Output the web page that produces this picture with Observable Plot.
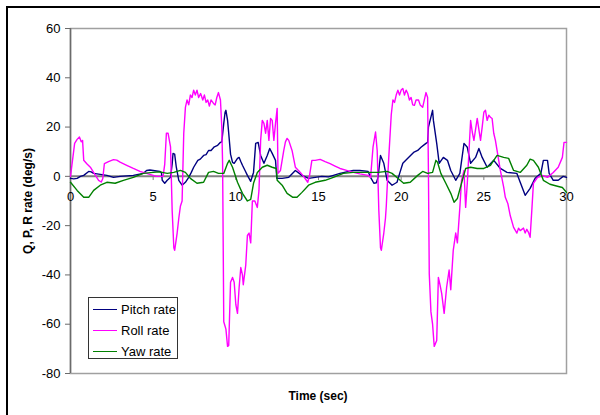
<!DOCTYPE html>
<html>
<head>
<meta charset="utf-8">
<script src="https://cdn.jsdelivr.net/npm/d3@7"></script>
<script src="https://cdn.jsdelivr.net/npm/@observablehq/plot@0.6"></script>
<style>
  html, body { margin: 0; padding: 0; background: #fff; }
  #wrap { position: relative; width: 600px; height: 415px; overflow: hidden; background: #fff; font-family: "Liberation Sans", Arial, sans-serif; }
  #outer { position: absolute; left: 6px; top: 6px; width: 640px; height: 440px; border: 2px solid #000; box-sizing: border-box; }
  #chart { position: absolute; left: 0; top: 0; }
  .ytitle { position: absolute; left: 28px; top: 201px; transform: translate(-50%, -50%) rotate(-90deg); font-weight: bold; font-size: 12px; white-space: nowrap; color: #000; }
  .xtitle { position: absolute; left: 318px; top: 396px; transform: translate(-50%, -50%); font-weight: bold; font-size: 12px; white-space: nowrap; color: #000; }
  #legend { position: absolute; left: 88px; top: 297px; width: 90px; height: 62px; border: 1.5px solid #333; box-sizing: border-box; background: #fff; }
  .lrow { position: absolute; left: 4px; height: 16px; display: flex; align-items: center; font-size: 13px; color: #000; white-space: nowrap; }
  .lrow span.sw { display: inline-block; width: 24px; height: 0; border-top: 1.5px solid; margin-right: 4px; }
</style>
</head>
<body>
<div id="wrap">
  <div id="outer"></div>
  <div id="chart"></div>
  <div class="ytitle">Q, P, R rate (deg/s)</div>
  <div class="xtitle">Time (sec)</div>
  <div id="legend"></div>
</div>
<script>
// ---- data ----
const seriesNames = ["Pitch rate", "Roll rate", "Yaw rate"];
const seriesColors = ["#000080", "#FF00FF", "#008000"];
const xTicks = [0, 5, 10, 15, 20, 25, 30];
const yTicks = [-80, -60, -40, -20, 0, 20, 40, 60];

const pitchT = [0,0.2,0.4,0.6,0.8,1.1,1.25,1.4,1.8,2.2,2.6,3.0,3.4,3.8,4.1,4.4,4.6,4.8,5.0,5.2,5.4,5.5,5.55,5.7,5.85,6.05,6.15,6.2,6.3,6.4,6.55,6.75,6.95,7.15,7.3,7.45,7.7,7.85,8.05,8.2,8.35,8.5,8.7,8.9,9.07,9.15,9.27,9.35,9.4,9.5,9.57,9.68,9.8,9.9,10.1,10.2,10.3,10.4,10.55,10.7,10.9,11.07,11.2,11.35,11.5,11.7,11.9,12.05,12.2,12.4,12.48,12.8,13.2,13.6,14.0,14.4,14.8,15.2,15.6,16.0,16.3,16.7,17.1,17.5,18.0,18.15,18.35,18.5,18.6,18.75,18.95,19.15,19.45,19.75,19.9,20.1,20.4,20.75,21.0,21.2,21.5,21.6,21.65,21.9,21.95,22.15,22.3,22.55,22.8,23.0,23.3,23.55,23.8,24.0,24.2,24.5,24.7,24.9,25.2,25.6,26.0,26.4,27.0,27.2,27.5,27.8,28.1,28.45,28.6,28.85,28.95,29.2,29.5,29.8,30];
const pitchV = [-0.8,-1,-0.8,0,0.4,2,1.8,1.2,0.8,0.4,-0.4,0,0.2,0.4,0.8,1.2,2.4,2.6,2.4,2.2,2,1.5,-1.6,-2.8,-1.6,-0.4,5,9.3,9,3.7,-1.6,-3.6,-2.4,-0.4,1.5,3.7,6.5,7,8.5,8.8,10.5,10.5,12,12.6,13.8,14,21.5,26,26.8,22.7,17.5,9,5.7,5.3,7.3,7.7,6,4.5,2.5,0.4,-2,1.6,13.4,13.8,8.5,5.3,8.5,11.3,9.3,6.5,-0.8,-0.8,-0.4,2.4,0.4,-0.8,-0.4,0,-0.2,0.6,1.2,1.8,2.4,2.4,2,-0.4,-2.8,-2.6,-0.4,8.5,5.3,-1.6,-3.6,-2.4,1,5.3,7.3,9.7,10.5,11.8,13.4,13.8,20,26.8,22.7,13.4,5.3,7.7,6.5,2.4,-1.6,1.2,13.4,11.8,5.3,7.7,11.3,7.7,3.7,6.5,3.2,1.6,1.2,-2.4,-7.7,-4.9,-0.8,1.2,6.5,6.5,1.2,-1.6,-1.6,0,-0.4];

const rollT = [0,0.15,0.25,0.4,0.54,0.65,0.73,0.8,1.0,1.2,1.5,1.7,1.86,1.95,2.05,2.3,2.6,2.8,3.0,3.4,3.8,4.2,4.6,4.9,5.2,5.6,5.7,5.8,5.9,6.05,6.15,6.25,6.3,6.45,6.55,6.65,6.75,6.85,6.95,7.05,7.15,7.25,7.35,7.45,7.55,7.65,7.75,7.87,8.0,8.1,8.2,8.3,8.4,8.5,8.65,8.75,8.85,8.95,9.07,9.15,9.2,9.27,9.4,9.5,9.57,9.68,9.8,9.9,10.0,10.1,10.2,10.3,10.4,10.45,10.6,10.7,10.8,10.9,11.0,11.15,11.3,11.4,11.5,11.6,11.7,11.8,11.9,12.0,12.1,12.2,12.3,12.4,12.5,12.55,12.7,12.9,13.0,13.1,13.2,13.4,13.6,13.9,14.1,14.35,14.45,14.6,14.8,15.1,15.4,15.7,16.0,16.3,16.7,17.1,17.5,18.0,18.15,18.3,18.45,18.55,18.65,18.75,18.8,18.95,19.05,19.1,19.15,19.25,19.4,19.5,19.6,19.7,19.8,19.9,20.0,20.1,20.2,20.3,20.4,20.5,20.6,20.7,20.8,20.9,21.05,21.15,21.3,21.4,21.5,21.6,21.65,21.7,21.8,21.9,22.0,22.15,22.25,22.35,22.45,22.6,22.75,22.9,23.0,23.15,23.3,23.4,23.55,23.65,23.8,23.9,24.0,24.2,24.3,24.4,24.6,24.8,24.9,25.0,25.1,25.2,25.3,25.4,25.5,25.6,25.7,25.8,26.0,26.2,26.3,26.45,26.6,26.8,27.0,27.1,27.2,27.4,27.5,27.6,27.7,27.8,27.9,28.0,28.25,28.55,28.85,29.2,29.5,29.75,29.85,30];
const rollV = [0,8,13.4,15,16,14,14.6,6.5,5,3.7,0.5,-1.6,-2.3,-1,5.2,6,6.8,6.6,5.8,4.5,3.2,2,1.2,0.6,0,0,5,17.5,17.5,12,-14,-29,-30,-23,-17,-12,-10,17.5,28,31,29,33,32,35,33,35,32,33.6,31,33,30,31,28.5,31,29.6,29,32,34,31,20,5,-59,-62,-69,-68.6,-43,-41,-43,-52,-55.6,-45,-37,-40,-44,-36,-24,-23,-27,-10,-10,-12.6,-5.7,14.6,22.7,21.5,17.5,22.7,14.6,23.5,22.7,14.6,21.5,27.6,1.2,2.4,10.5,14,15.4,14.6,10.5,3.7,1.6,0,-2.4,0,6.5,6.5,6.9,6,5.2,4.2,3.2,2.4,1.6,1,0.4,-0.4,12,18,10.5,-14,-29,-30,-23,-17,-12,-5,7.7,25,31,30,33,35,33,35,35.7,33,35,33.6,31,32,29,28.8,31,31,29,28,31,34,32,1,-39.6,-55,-60,-69,-66.6,-41,-44,-47.5,-55.6,-45,-38,-46,-30,-23,-27,-12.6,-1.6,2.4,-12.6,-2.8,22.7,18,14.6,23.5,14.6,20,26,26.8,22.7,24.8,24,23.5,17.5,14.6,10.5,2.4,-4.4,-8.5,-11,-16,-20.7,-23,-21,-22,-21,-23,-21.5,-22.7,-24.7,-14,-2.8,-0.4,0.4,-0.4,1.6,3.7,7.7,13.8,13.8];

const yawT = [0,0.4,0.8,1.1,1.4,1.8,2.2,2.7,3.2,3.8,4.4,5.0,5.4,5.85,6.25,6.65,6.95,7.25,7.65,8.05,8.35,8.65,8.95,9.27,9.5,9.6,9.8,10.1,10.4,10.7,10.9,11.07,11.3,11.6,11.9,12.2,12.45,12.5,12.8,13.1,13.45,13.7,14.0,14.4,14.8,15.4,15.9,16.5,17.1,18.0,18.6,19.15,19.45,19.8,20.15,20.55,21.0,21.3,21.6,21.9,22.1,22.2,22.4,22.7,23.0,23.2,23.4,23.7,23.9,24.2,24.6,25.0,25.4,25.8,26.2,26.5,26.8,27.2,27.6,27.8,28.0,28.3,28.6,29.0,29.45,29.75,30];
const yawV = [-2.4,-5.7,-8.5,-8.5,-5.7,-3.6,-2.4,-2.8,-1.6,-0.4,1.2,1.6,1.8,1.2,1.6,2.4,1.6,-0.8,-2.8,-2.4,1.6,2,1.2,1.2,5.3,6.5,3.7,-2.4,-6.9,-10,-9.3,-2.8,1.6,3.7,4.5,3.7,3.2,-1.6,-3.6,-6.9,-8.5,-8.5,-6.5,-3.6,-2.4,-1.6,-0.4,1.2,1.6,1.6,1.6,2,1.2,-0.8,-2.8,-2.4,0.4,2,1.2,1.6,6.5,5.7,1.2,-2.8,-6.9,-10.5,-9,-1.6,3.2,3.7,3.2,3.2,4.5,8.5,7.7,7.3,2.4,1.6,4.5,7,6.5,3.7,-1.6,-3.2,-4.0,-4.5,-6.5];

// ---- build tables ----
const toRows = (T, V) => T.map((t, i) => ({t, v: V[i]}));
const series = [toRows(pitchT, pitchV), toRows(rollT, rollV), toRows(yawT, yawV)];

const fmt = d => String(d);
const chart = Plot.plot({
  width: 600,
  height: 415,
  marginLeft: 70,
  marginRight: 34,
  marginTop: 28,
  marginBottom: 42,
  style: { background: "transparent", fontFamily: "'Liberation Sans', Arial, sans-serif", fontSize: "13px", color: "#000" },
  x: { domain: [0, 30], axis: null },
  y: { domain: [-80, 60] },
  marks: [
    Plot.frame({ stroke: "#a0a0a0", strokeWidth: 1.5 }),
    Plot.ruleX([0], { stroke: "#6b6b6b", strokeWidth: 1.5 }),
    Plot.axisY({ ticks: yTicks, tickSize: 5, tickPadding: 5, label: null, tickFormat: fmt, stroke: "#6b6b6b", fill: "#000", fontSize: 13 }),
    Plot.ruleY([0], { stroke: "#808080", strokeWidth: 2 }),
    Plot.ruleX(xTicks.slice(1), { x: d => d, y1: () => 0, y2: () => -1.7, stroke: "#808080", strokeWidth: 1 }),
    Plot.text(xTicks, { x: d => d, y: () => 0, dy: 20, text: fmt, fill: "#000", fontSize: 13 }),
    ...series.map((rows, i) => Plot.line(rows, { x: "t", y: "v", stroke: seriesColors[i], strokeWidth: 1.4 }))
  ]
});
document.getElementById("chart").appendChild(chart);

// ---- legend ----
const legend = document.getElementById("legend");
seriesNames.forEach((name, i) => {
  const row = document.createElement("div");
  row.className = "lrow";
  row.style.top = (3 + i * 21) + "px";
  const sw = document.createElement("span");
  sw.className = "sw";
  sw.style.borderTopColor = seriesColors[i];
  row.appendChild(sw);
  row.appendChild(document.createTextNode(name));
  legend.appendChild(row);
});
</script>
</body>
</html>
